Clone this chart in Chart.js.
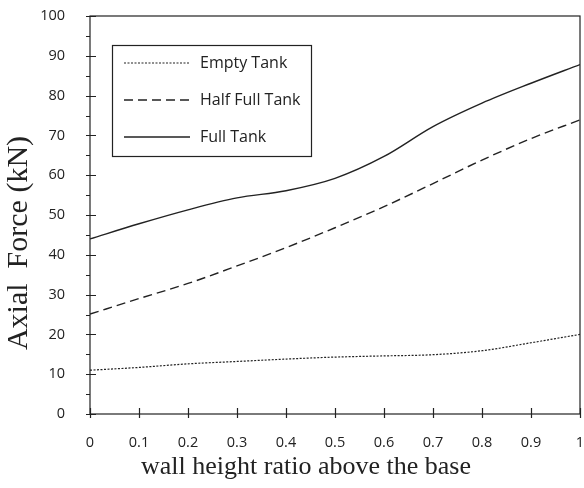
<!DOCTYPE html>
<html>
<head>
<meta charset="utf-8">
<script src="https://cdn.jsdelivr.net/npm/chart.js@4.4.1/dist/chart.umd.min.js"></script>
<style>
  html, body { margin: 0; padding: 0; background: #fff; }
  #wrap { width: 584px; height: 488px; }
</style>
</head>
<body>
<div id="wrap"><canvas id="forceChart" width="584" height="488"></canvas></div>
<script>
// wall height ratio and axial force readings (kN)
const heightRatio = [0, 0.1, 0.2, 0.3, 0.4, 0.5, 0.6, 0.7, 0.8, 0.9, 1];
const emptyTank = [11, 11.7, 12.6, 13.2, 13.8, 14.3, 14.6, 14.9, 15.9, 17.9, 20];
const halfFullTank = [25.1, 29, 32.8, 37.2, 41.8, 46.8, 52.1, 57.9, 63.8, 69.2, 73.9];
const fullTank = [44, 47.8, 51.3, 54.3, 56.1, 59.2, 64.7, 72.2, 78.1, 83.1, 87.8];
const seriesNames = ['Empty Tank', 'Half Full Tank', 'Full Tank'];

const ink = '#222';
const toPoints = vals => vals.map((v, i) => ({ x: heightRatio[i], y: v }));

// frame, crossing tick marks, legend box and axis titles
const decorations = {
    id: 'decorations',
    afterDraw(chart) {
        const ctx = chart.ctx;
        const a = chart.chartArea;
        const xs = chart.scales.x, ys = chart.scales.y;
        ctx.save();
        ctx.strokeStyle = ink;
        ctx.lineWidth = 1.2;
        ctx.strokeRect(a.left, a.top, a.right - a.left, a.bottom - a.top);

        ctx.beginPath();
        for (let v = 0; v <= 100; v += 5) {
            const py = Math.round(ys.getPixelForValue(v)) + 0.5;
            const major = v % 10 === 0;
            ctx.moveTo(a.left - 4, py);
            ctx.lineTo(major ? a.left + 6 : a.left, py);
        }
        heightRatio.forEach(r => {
            const px = Math.round(xs.getPixelForValue(r)) + 0.5;
            ctx.moveTo(px, a.bottom - 6);
            ctx.lineTo(px, a.bottom + 4);
        });
        ctx.stroke();

        // legend
        const box = { x: 112, y: 45, w: 199, h: 111 };
        ctx.lineWidth = 1.2;
        ctx.strokeRect(box.x + 0.5, box.y + 0.5, box.w, box.h);
        ctx.font = '16px "Open Sans"';
        ctx.fillStyle = ink;
        ctx.textBaseline = 'middle';
        chart.data.datasets.forEach((ds, i) => {
            const ly = 63 + i * 37;
            ctx.beginPath();
            ctx.setLineDash(ds.borderDash || []);
            ctx.lineWidth = ds.borderWidth;
            ctx.moveTo(124, ly);
            ctx.lineTo(190, ly);
            ctx.stroke();
            ctx.setLineDash([]);
            ctx.fillText(ds.label, 200, ly);
        });

        // axis titles
        ctx.font = '26px "Liberation Serif"';
        ctx.textAlign = 'center';
        ctx.fillText('wall height ratio above the base', 306, 467);
        ctx.font = '30px "Liberation Serif"';
        ctx.translate(19, 243);
        ctx.rotate(-Math.PI / 2);
        ctx.fillText('Axial  Force (kN)', 0, 0);
        ctx.restore();
    }
};

new Chart(document.getElementById('forceChart'), {
    type: 'line',
    data: {
        datasets: [
            {
                label: seriesNames[0],
                data: toPoints(emptyTank),
                borderColor: ink,
                borderWidth: 1.2,
                borderDash: [2, 1.5]
            },
            {
                label: seriesNames[1],
                data: toPoints(halfFullTank),
                borderColor: ink,
                borderWidth: 1.4,
                borderDash: [9, 5]
            },
            {
                label: seriesNames[2],
                data: toPoints(fullTank),
                borderColor: ink,
                borderWidth: 1.4
            }
        ]
    },
    options: {
        responsive: false,
        animation: false,
        cubicInterpolationMode: 'monotone',
        pointRadius: 0,
        layout: { padding: { left: 0, right: 4, top: 16, bottom: 0 } },
        scales: {
            x: {
                type: 'linear',
                min: 0,
                max: 1,
                grid: { display: false, drawTicks: false },
                border: { display: false },
                afterFit(scale) {
                    scale.height = 74;
                    scale.paddingLeft = 0;
                    scale.paddingRight = 0;
                },
                ticks: {
                    stepSize: 0.1,
                    padding: 20,
                    color: ink,
                    maxRotation: 0,
                    font: { family: 'Open Sans', size: 14.5 },
                    callback: v => String(Math.round(v * 10) / 10)
                }
            },
            y: {
                min: 0,
                max: 100,
                grid: { display: false, drawTicks: false },
                border: { display: false },
                afterFit(scale) {
                    scale.width = 90;
                    scale.paddingTop = 0;
                    scale.paddingBottom = 0;
                },
                ticks: {
                    stepSize: 10,
                    padding: 25,
                    color: ink,
                    font: { family: 'Open Sans', size: 14.5 }
                }
            }
        },
        plugins: {
            legend: { display: false },
            tooltip: { enabled: false }
        }
    },
    plugins: [decorations]
});
</script>
</body>
</html>
